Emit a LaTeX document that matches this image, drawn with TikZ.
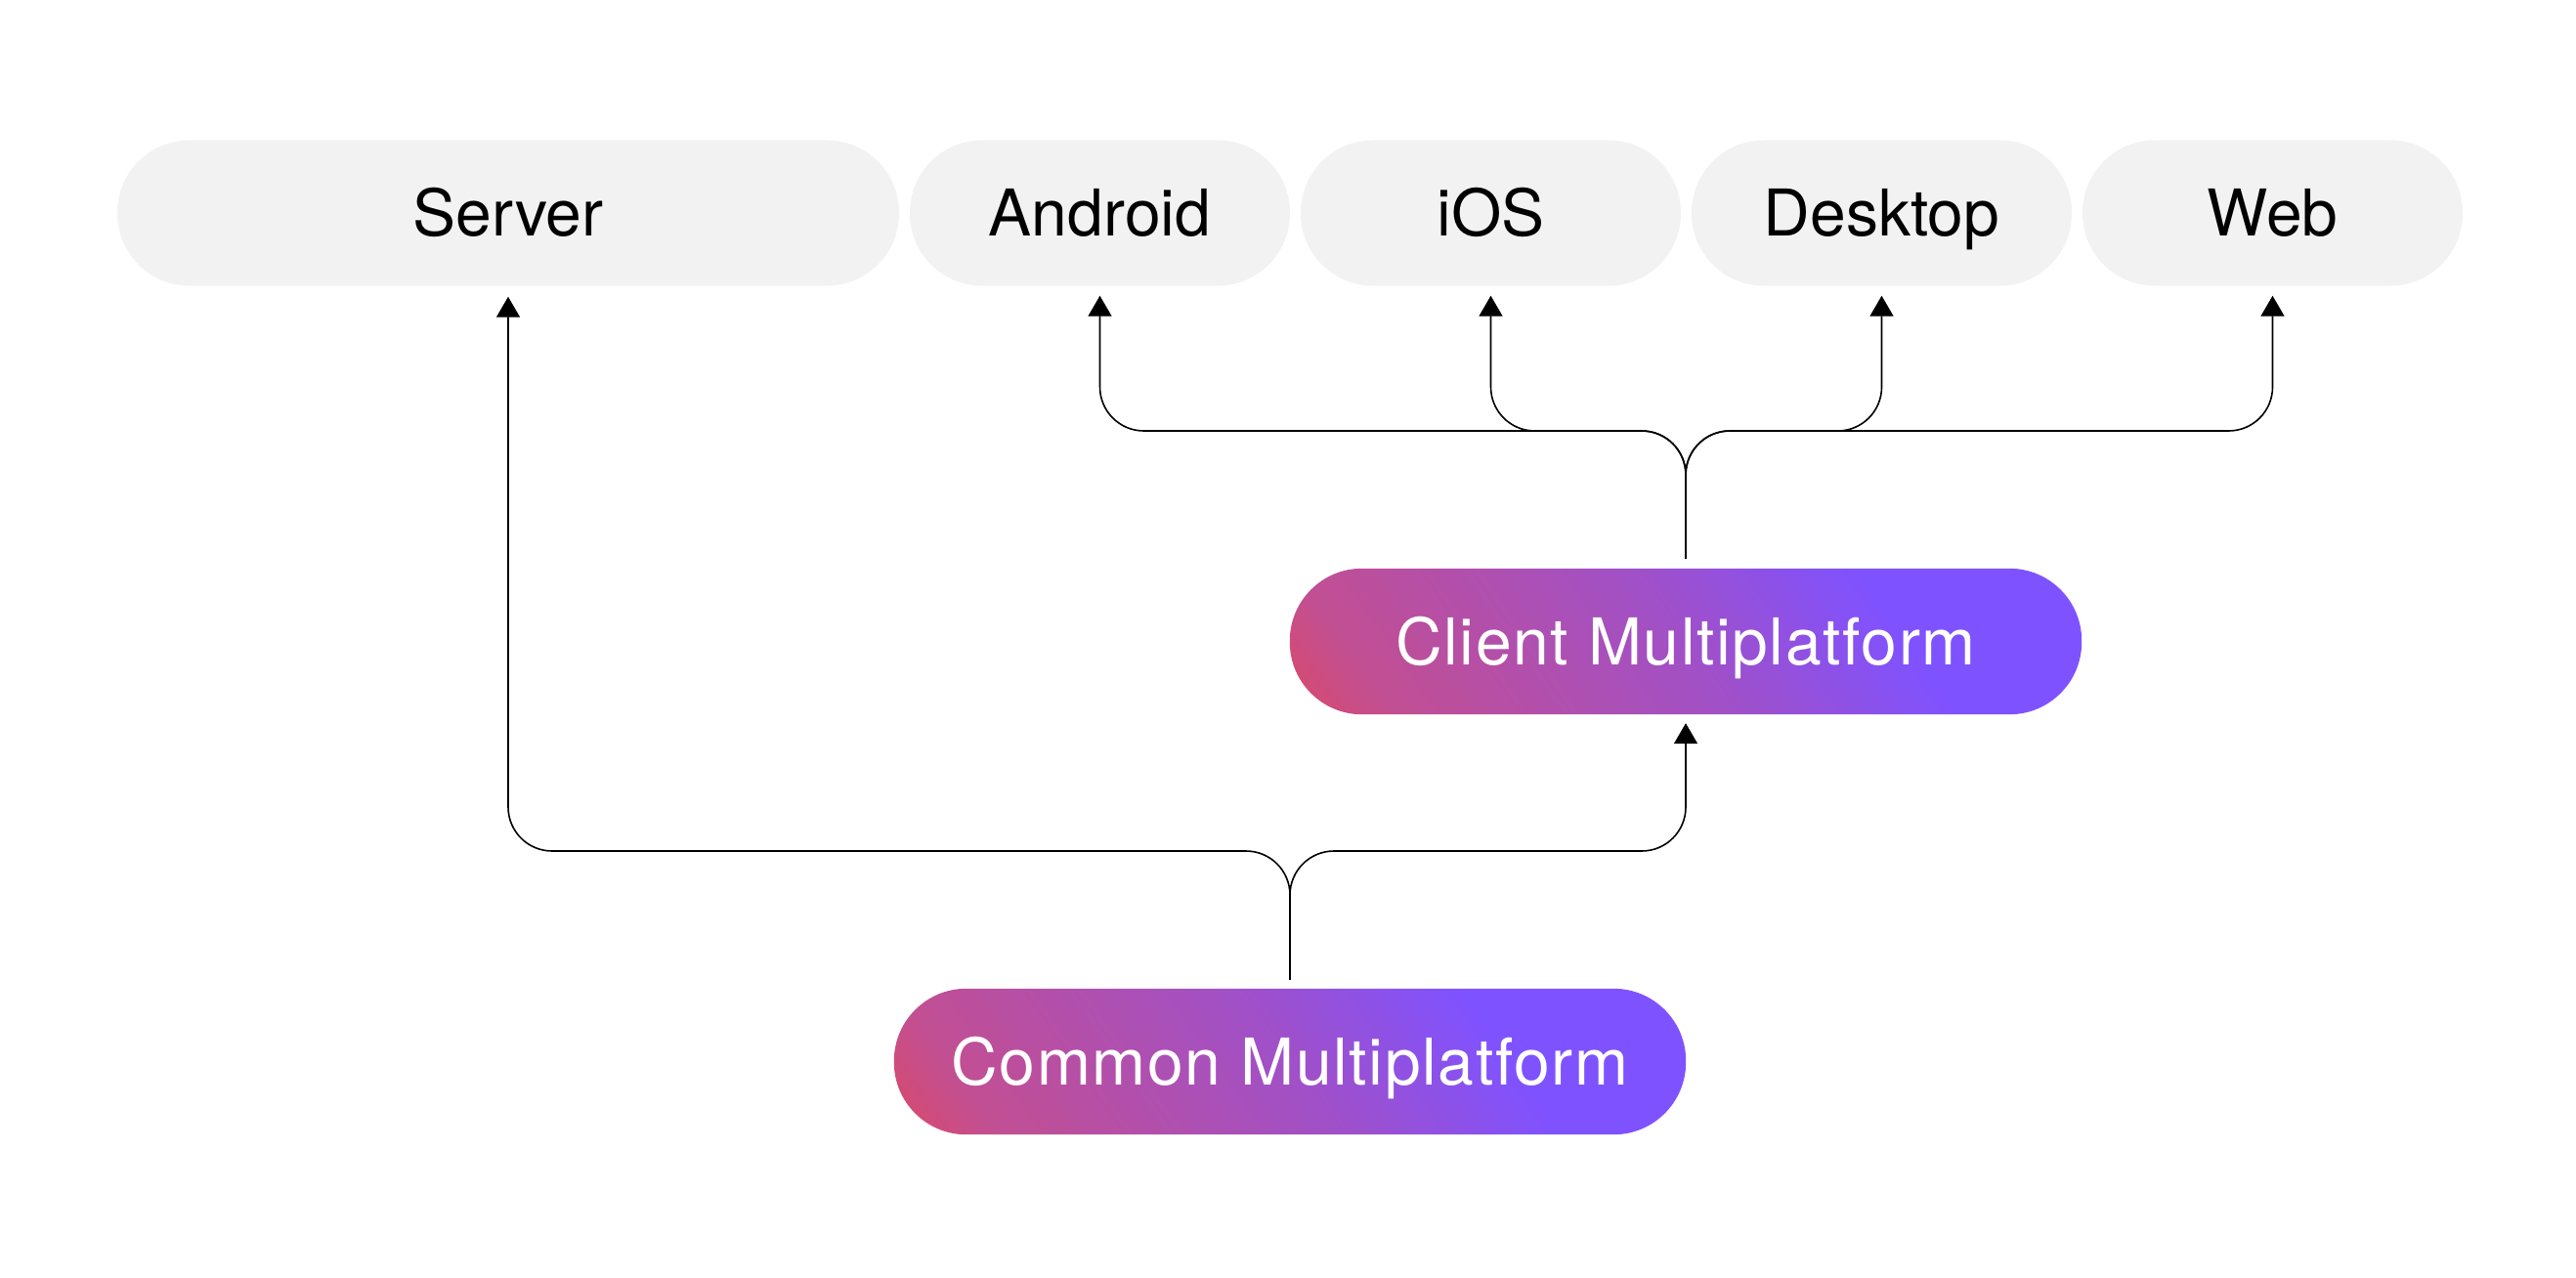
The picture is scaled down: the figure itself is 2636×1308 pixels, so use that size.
\documentclass[tikz,border=0pt]{standalone}
\usepackage{fontspec}
\setmainfont{TeX Gyre Heros}
\newfontfamily\widefont{TeX Gyre Heros}[LetterSpace=2.5]
\usetikzlibrary{arrows.meta}
\definecolor{boxgray}{HTML}{F2F2F2}
\definecolor{kred}{HTML}{DB4967}
\definecolor{kmagenta}{HTML}{C24F92}
\definecolor{kmid}{HTML}{A050C8}
\definecolor{kpurple}{HTML}{7F52FF}
\pgfdeclarehorizontalshading{kmp}{100bp}{color(0bp)=(kred); color(27bp)=(kred); color(32.4bp)=(kmagenta); color(50bp)=(kmid); color(61.3bp)=(kpurple); color(100bp)=(kpurple)}
\pgfdeclarelayer{bg}
\pgfsetlayers{bg,main}
\begin{document}
\begin{tikzpicture}[x=1pt,y=-1pt,
  pill/.style={rectangle, rounded corners=74pt, minimum height=149pt, inner sep=0pt,
    font=\fontsize{66pt}{70pt}\selectfont, text height=47pt, text depth=0pt},
  platform/.style={pill, fill=boxgray, text=black},
  shared/.style={pill, text=white, minimum width=810pt,
    font=\widefont\fontsize{66pt}{70pt}\selectfont},
  conn/.style={draw=black, line width=1.6pt, rounded corners=45pt,
    -{Triangle[length=21pt,width=24pt]}}]
\useasboundingbox (0,0) rectangle (2636,1308);
\node[platform, minimum width=800pt] (server)  at (520,218)    {Server};
\node[platform, minimum width=389pt] (android) at (1125.5,218) {Android};
\node[platform, minimum width=389pt] (ios)     at (1525.5,218) {iOS};
\node[platform, minimum width=389pt] (desktop) at (1925.5,218) {Desktop};
\node[platform, minimum width=389pt] (web)     at (2325.5,218) {Web};
\node[shared] (client) at (1725,656.5)  {Client Multiplatform};
\node[shared] (common) at (1320,1086.5) {Common Multiplatform};
\begin{pgfonlayer}{bg}
\foreach \b in {client,common}{
  \begin{scope}
    \clip[rounded corners=74pt] (\b.south west) rectangle (\b.north east);
    \shade[shading=kmp, transform canvas={shift={(\b.center)}, rotate=35}]
      (-410,-410) rectangle (410,410);
  \end{scope}
}
\end{pgfonlayer}
\coordinate (busT) at (0,441);
\coordinate (busB) at (0,871);
\foreach \t in {android,ios,desktop,web}{
  \draw[conn, shorten <=10pt, shorten >=10pt]
    (client.north) -- (client.north |- busT) -- (\t.south |- busT) -- (\t.south);
}
\draw[conn, shorten <=9pt, shorten >=11pt]
  (common.north) -- (common.north |- busB) -- (server.south |- busB) -- (server.south);
\draw[conn, shorten <=9pt, shorten >=9pt]
  (common.north) -- (common.north |- busB) -- (client.south |- busB) -- (client.south);
\end{tikzpicture}
\end{document}
